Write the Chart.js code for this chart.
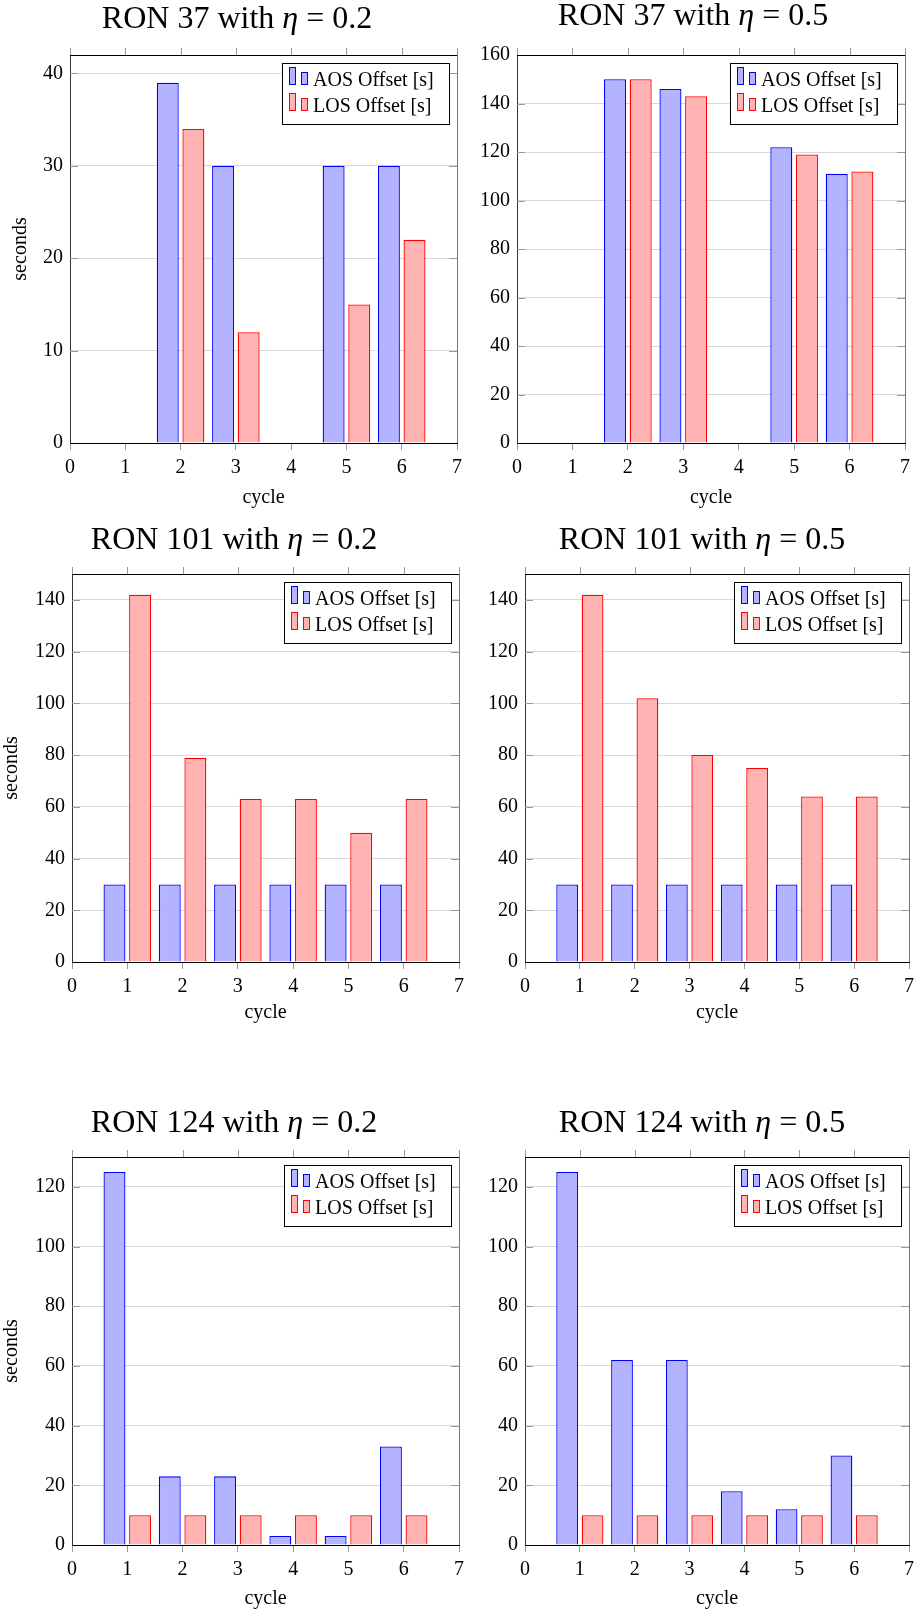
<!DOCTYPE html>
<html>
<head>
<meta charset="utf-8">
<script src="https://cdn.jsdelivr.net/npm/chart.js@4.4.1/dist/chart.umd.min.js"></script>
<style>
  html, body { margin: 0; padding: 0; background: #fff; }
  body { width: 920px; height: 1614px; position: relative; overflow: hidden; }
  canvas { position: absolute; }
</style>
</head>
<body>
<canvas id="ron37a"></canvas>
<canvas id="ron37b"></canvas>
<canvas id="ron101a"></canvas>
<canvas id="ron101b"></canvas>
<canvas id="ron124a"></canvas>
<canvas id="ron124b"></canvas>
<script>
// cycles on the x axis, same for every panel
const cycles = [1, 2, 3, 4, 5, 6];
const seriesLabels = ['AOS Offset [s]', 'LOS Offset [s]'];

// RON 37
const aos37a = [0, 39, 30, 0, 30, 30];
const los37a = [0, 34, 12, 0, 15, 22];
const aos37b = [0, 150, 146, 0, 122, 111];
const los37b = [0, 150, 143, 0, 119, 112];
// RON 101
const aos101a = [30, 30, 30, 30, 30, 30];
const los101a = [142, 79, 63, 63, 50, 63];
const aos101b = [30, 30, 30, 30, 30, 30];
const los101b = [142, 102, 80, 75, 64, 64];
// RON 124
const aos124a = [125, 23, 23, 3, 3, 33];
const los124a = [10, 10, 10, 10, 10, 10];
const aos124b = [125, 62, 62, 18, 12, 30];
const los124b = [10, 10, 10, 10, 10, 10];

const serif = "'Liberation Serif', 'Times New Roman', serif";
const font = { family: serif, size: 20 };
const aosFill = '#b3b3ff', aosLine = '#0000ff';
const losFill = '#ffb3b3', losLine = '#ff0000';

// layout: canvas box [left, top, w, h], plot area [L, T, R, B], page coords
const panels = [
    { id: 'ron37a', title: 'RON 37 with η = 0.2', aos: aos37a, los: los37a, yMax: 42, yStep: 10, yLabel: 'seconds',
      box: [0, 0, 470, 520], plot: [70, 55, 457, 443], titleAt: [237, 28], cycleY: 498, yLabelPad: 9 },
    { id: 'ron37b', title: 'RON 37 with η = 0.5', aos: aos37b, los: los37b, yMax: 160, yStep: 20, yLabel: '',
      box: [465, 0, 455, 520], plot: [517, 55, 905, 443], titleAt: [693, 25], cycleY: 498, yLabelPad: 0 },
    { id: 'ron101a', title: 'RON 101 with η = 0.2', aos: aos101a, los: los101a, yMax: 150, yStep: 20, yLabel: 'seconds',
      box: [0, 500, 470, 540], plot: [72, 574, 459, 962], titleAt: [234, 549], cycleY: 1013, yLabelPad: 0 },
    { id: 'ron101b', title: 'RON 101 with η = 0.5', aos: aos101b, los: los101b, yMax: 150, yStep: 20, yLabel: '',
      box: [465, 500, 455, 540], plot: [525, 574, 913, 962], titleAt: [702, 549], cycleY: 1013, yLabelPad: 0 },
    { id: 'ron124a', title: 'RON 124 with η = 0.2', aos: aos124a, los: los124a, yMax: 130, yStep: 20, yLabel: 'seconds',
      box: [0, 1080, 470, 534], plot: [72, 1157, 459, 1545], titleAt: [234, 1132], cycleY: 1599, yLabelPad: 0 },
    { id: 'ron124b', title: 'RON 124 with η = 0.5', aos: aos124b, los: los124b, yMax: 130, yStep: 20, yLabel: '',
      box: [465, 1080, 455, 534], plot: [525, 1157, 913, 1545], titleAt: [702, 1132], cycleY: 1599, yLabelPad: 0 }
];

const px = v => Math.round(v) + 0.5;

// pgfplots-like frame, inner ticks, legend box and title with italic eta
const pgfLook = {
    id: 'pgfLook',
    afterDatasetsDraw(chart, args, opts) {
        const { ctx, chartArea: a, scales: { x, y } } = chart;
        ctx.save();
        ctx.lineWidth = 1;

        // inner y tick marks on both sides
        ctx.strokeStyle = '#999';
        y.ticks.forEach(t => {
            if (t.value === 0) return;
            const py = px(y.getPixelForValue(t.value));
            ctx.beginPath();
            ctx.moveTo(a.left, py); ctx.lineTo(a.left + 8, py);
            ctx.moveTo(a.right - 8, py); ctx.lineTo(a.right, py);
            ctx.stroke();
        });

        // top x tick marks, outward
        x.ticks.forEach(t => {
            const xx = px(x.getPixelForValue(t.value));
            ctx.beginPath();
            ctx.moveTo(xx, a.top); ctx.lineTo(xx, a.top - 7);
            ctx.stroke();
        });

        // frame top and right
        ctx.strokeStyle = '#000';
        ctx.beginPath();
        ctx.moveTo(a.left, px(a.top)); ctx.lineTo(a.right, px(a.top));
        ctx.stroke();
        ctx.strokeStyle = '#777';
        ctx.beginPath();
        ctx.moveTo(px(a.right), a.top); ctx.lineTo(px(a.right), a.bottom);
        ctx.stroke();

        // legend
        const bw = 167, bh = 61;
        const bx = Math.round(a.right - 8 - bw), by = Math.round(a.top + 8);
        ctx.fillStyle = '#fff';
        ctx.fillRect(bx, by, bw, bh);
        ctx.strokeStyle = '#000';
        ctx.strokeRect(bx + 0.5, by + 0.5, bw, bh);
        ctx.font = '20px ' + serif;
        ctx.textBaseline = 'alphabetic';
        chart.data.datasets.forEach((ds, i) => {
            const base = by + 22 + i * 26;
            ctx.fillStyle = ds.backgroundColor;
            ctx.strokeStyle = ds.borderColor;
            ctx.fillRect(bx + 7, base - 18, 6, 18);
            ctx.strokeRect(bx + 7.5, base - 17.5, 6, 17);
            ctx.fillRect(bx + 19, base - 13, 6, 13);
            ctx.strokeRect(bx + 19.5, base - 12.5, 6, 12);
            ctx.fillStyle = '#000';
            ctx.fillText(ds.label, bx + 31, base + 1);
        });
        ctx.restore();
    },
    afterDraw(chart, args, opts) {
        const { ctx } = chart;
        const parts = opts.title.split('η');
        const up = '32px ' + serif, it = 'italic 32px ' + serif;
        ctx.save();
        ctx.fillStyle = '#000';
        ctx.textBaseline = 'alphabetic';
        ctx.font = up;
        const w0 = ctx.measureText(parts[0]).width;
        const w2 = ctx.measureText(parts[1]).width;
        ctx.font = it;
        const w1 = ctx.measureText('η').width;
        let tx = opts.x - (w0 + w1 + w2) / 2;
        ctx.font = up; ctx.fillText(parts[0], tx, opts.y); tx += w0;
        ctx.font = it; ctx.fillText('η', tx, opts.y); tx += w1;
        ctx.font = up; ctx.fillText(parts[1], tx, opts.y);
        ctx.restore();
    }
};

function makeChart(p) {
    const [cx, cy, cw, ch] = p.box;
    const [L, T, R, B] = p.plot;
    const canvas = document.getElementById(p.id);
    canvas.width = cw; canvas.height = ch;
    canvas.style.left = cx + 'px'; canvas.style.top = cy + 'px';
    canvas.style.width = cw + 'px'; canvas.style.height = ch + 'px';
    const xHeight = p.cycleY + 14 - B;

    new Chart(canvas, {
        type: 'bar',
        data: {
            datasets: [{
                label: seriesLabels[0],
                data: cycles.map((c, i) => ({ x: c, y: p.aos[i] })),
                backgroundColor: aosFill,
                borderColor: aosLine,
                borderWidth: 1.3
            }, {
                label: seriesLabels[1],
                data: cycles.map((c, i) => ({ x: c, y: p.los[i] })),
                backgroundColor: losFill,
                borderColor: losLine,
                borderWidth: 1.3
            }]
        },
        options: {
            responsive: false,
            animation: false,
            devicePixelRatio: 1,
            categoryPercentage: 0.926,
            barPercentage: 0.857,
            layout: {
                padding: { left: 0, top: T - cy, right: cx + cw - R, bottom: cy + ch - (B + xHeight) }
            },
            plugins: {
                legend: { display: false },
                tooltip: { enabled: false },
                pgfLook: { title: p.title, x: p.titleAt[0] - cx, y: p.titleAt[1] - cy }
            },
            scales: {
                x: {
                    type: 'linear',
                    min: 0,
                    max: 7,
                    offset: false,
                    ticks: { stepSize: 1, padding: 6, color: '#000', font: font },
                    grid: { offset: false, drawOnChartArea: false, drawTicks: true, tickLength: 7, tickColor: '#999' },
                    border: { display: true, color: '#000' },
                    title: { display: true, text: 'cycle', color: '#000', font: font, padding: { top: 0, bottom: 2 } },
                    afterFit: s => { s.height = xHeight; }
                },
                y: {
                    min: 0,
                    max: p.yMax,
                    ticks: { stepSize: p.yStep, includeBounds: false, padding: 7, color: '#000', font: font },
                    grid: { color: '#d9d9d9', drawTicks: false },
                    border: { display: true, color: '#333' },
                    title: { display: !!p.yLabel, text: p.yLabel, color: '#000', font: font, padding: { top: p.yLabelPad, bottom: 0 } },
                    afterFit: s => { s.width = L - cx; }
                }
            }
        },
        plugins: [pgfLook]
    });
}

panels.forEach(makeChart);
</script>
</body>
</html>
